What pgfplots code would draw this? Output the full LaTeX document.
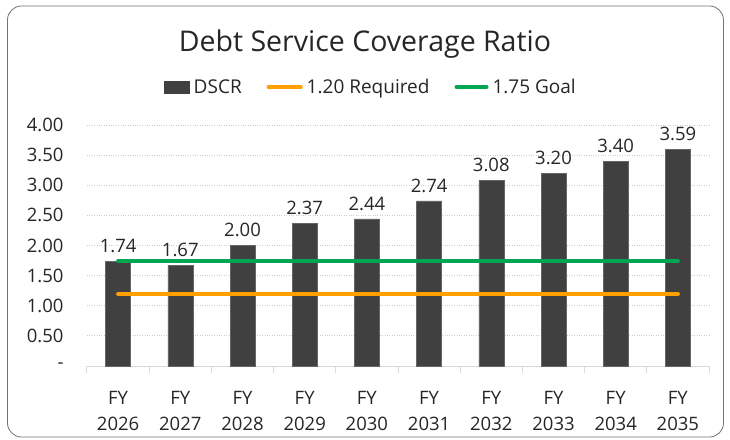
\documentclass[border=0pt]{standalone}
\usepackage{fontspec}
\setmainfont{Open Sans}
\usepackage{pgfplots}
\pgfplotsset{compat=1.18}
\definecolor{barc}{HTML}{404040}
\definecolor{orng}{HTML}{FF9F00}
\definecolor{grn}{HTML}{00A651}
\definecolor{gridc}{HTML}{CFCFBF}
\definecolor{axc}{HTML}{D9D9D9}
\definecolor{txt}{HTML}{262626}
\begin{document}
\begin{tikzpicture}
\begin{axis}[
  scale only axis,
  width=622pt, height=241pt,
  xmin=-0.5, xmax=9.5, ymin=0, ymax=4,
  axis x line*=bottom, axis y line*=left,
  x axis line style={draw=axc, line width=1pt, -},
  y axis line style={draw=none},
  xtick={0,...,9},
  xticklabels={{FY\\2026},{FY\\2027},{FY\\2028},{FY\\2029},{FY\\2030},{FY\\2031},{FY\\2032},{FY\\2033},{FY\\2034},{FY\\2035}},
  minor xtick={-0.5,0.5,...,9.5},
  xtick style={draw=none},
  minor x tick style={draw=axc, line width=1pt},
  minor tick length=7pt,
  tick align=outside,
  major tick length=0pt,
  xticklabel style={align=center, font=\fontsize{18.5}{26}\selectfont, text=txt, yshift=-22pt},
  ytick={0,0.5,...,4},
  yticklabels={{-\hspace{9pt}},0.50,1.00,1.50,2.00,2.50,3.00,3.50,4.00},
  yticklabel style={font=\fontsize{18.5}{22}\selectfont, text=txt, xshift=-20pt},
  ytick style={draw=none},
  ymajorgrids,
  grid style={dotted, gridc, line width=0.9pt},
  legend columns=3,
  legend style={at={(0.455,1.158)}, anchor=center, draw=none, fill=none,
    font=\fontsize{19}{22}\selectfont, text=txt,
    /tikz/every odd column/.append style={column sep=4pt},
    /tikz/every even column/.append style={column sep=25pt},
    inner sep=0pt, nodes={inner sep=0pt}},
  legend cell align=left,
]
\coordinate (O) at (axis cs:-0.5,0);
\addplot[ybar, bar width=25pt, bar shift=0pt, fill=barc, draw=barc!80!white, line width=0.5pt,
  nodes near coords={\pgfmathprintnumber[fixed,fixed zerofill,precision=2,assume math mode=true]{\pgfplotspointmeta}},
  every node near coord/.append style={font=\fontsize{18.5}{22}\selectfont, text=txt, yshift=5pt},
  legend image code/.code={\fill[barc] (0pt,-6pt) rectangle (25pt,6pt);}]
coordinates {(0,1.74) (1,1.67) (2,2.00) (3,2.37) (4,2.44) (5,2.74) (6,3.08) (7,3.20) (8,3.40) (9,3.59)};
\addlegendentry{DSCR}
\addplot[orng, line width=4pt, line cap=round, mark=none,
  legend image code/.code={\draw[orng, line width=4pt] (0pt,0) -- (30pt,0); \path (0,0) -- (32pt,0);}]
coordinates {(0,1.20) (1,1.20) (2,1.20) (3,1.20) (4,1.20) (5,1.20) (6,1.20) (7,1.20) (8,1.20) (9,1.20)};
\addlegendentry{1.20 Required}
\addplot[grn, line width=4pt, line cap=round, mark=none,
  legend image code/.code={\draw[grn, line width=4pt] (0pt,0) -- (30pt,0);}]
coordinates {(0,1.75) (1,1.75) (2,1.75) (3,1.75) (4,1.75) (5,1.75) (6,1.75) (7,1.75) (8,1.75) (9,1.75)};
\addlegendentry{1.75 Goal}
\end{axis}
\pgfresetboundingbox
\begin{scope}[shift={(O)}, xshift=-87pt, yshift=-73pt, x=1pt, y=1pt]
\path[use as bounding box] (0,0) rectangle (730,439);
\draw[rounded corners=14pt, color=black!55, line width=0.8pt] (7.5,2) rectangle (723.5,433);
\node[font=\fontsize{28.5}{32}\selectfont, text=txt, anchor=base] at (365,387) {Debt Service Coverage Ratio};
\end{scope}
\end{tikzpicture}
\end{document}
